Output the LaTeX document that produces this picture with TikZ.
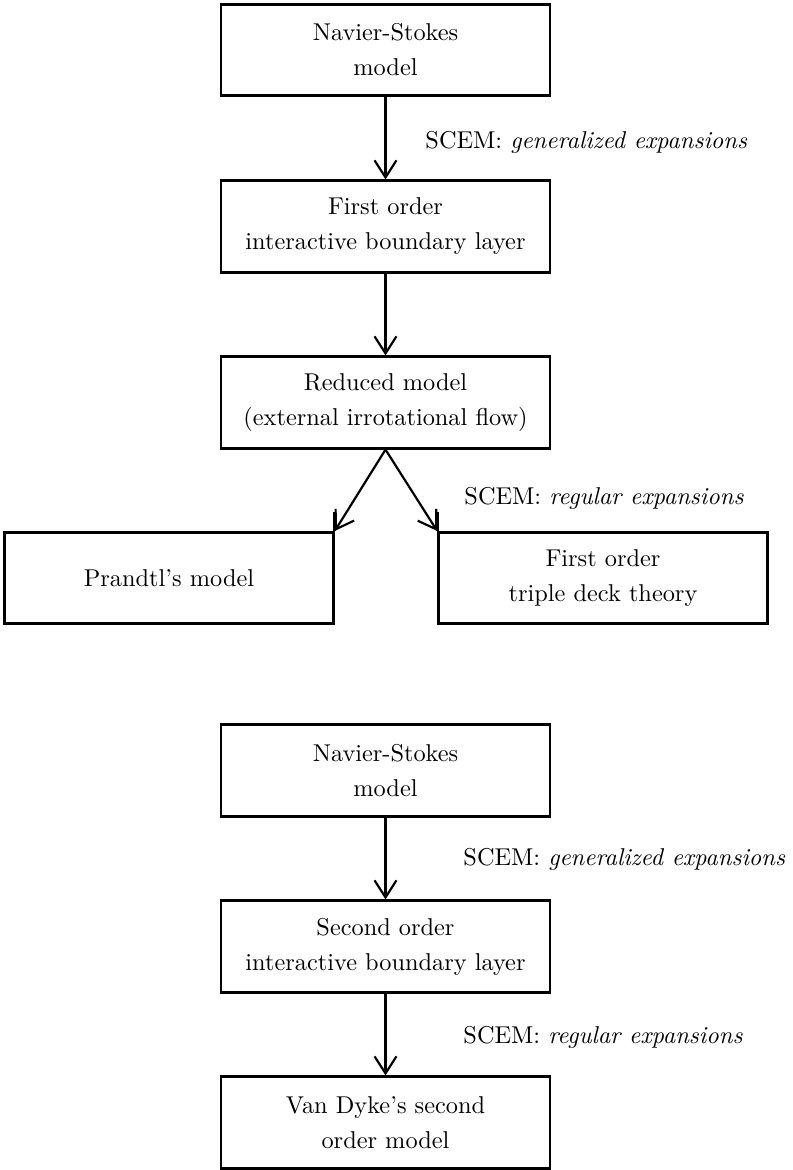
\documentclass[tikz,border=0pt]{standalone}
\usetikzlibrary{arrows.meta}
\begin{document}
\begin{tikzpicture}[x=0.411pt,y=-0.411pt,
  modelbox/.style={draw,line width=1.1pt,minimum width=135.2pt,minimum height=37.6pt,
    inner sep=0pt,align=center,font={\linespread{1.2}\selectfont}},
  flow/.style={line width=0.9pt,-{Straight Barb[length=7pt,width=9pt,line width=0.9pt]}},
  note/.style={anchor=base west,inner sep=0pt}]
\useasboundingbox (0,0) rectangle (793,1170);

% first chain: Navier-Stokes down to the first order models
\node[modelbox] (ns1) at (385.5,50) {Navier-Stokes\\model};
\node[modelbox] (ibl1) at (385.5,226.5) {First order\\interactive boundary layer};
\node[modelbox] (red) at (385.5,402.5) {Reduced model\\(external irrotational flow)};
\node[modelbox] (pr) at (169,578) {Prandtl's model};
\node[modelbox] (td) at (603,578) {First order\\triple deck theory};

\draw[flow] (ns1.south) -- (ibl1.north);
\draw[flow] (ibl1.south) -- (red.north);
\draw[flow] (red.south) -- (pr.north east);
\draw[flow] (red.south) -- (td.north west);
\draw[line width=1.1pt] (pr.north east) -- ++(0,-19);
\draw[line width=1.1pt] (td.north west) -- ++(0,-19);

\node[note] (l1) at (425,148) {SCEM: \textit{generalized expansions}};
\node[note] (l2) at (464,504) {SCEM: \textit{regular expansions}};

% second chain: Navier-Stokes down to Van Dyke's model
\node[modelbox] (ns2) at (385.5,770.5) {Navier-Stokes\\model};
\node[modelbox] (ibl2) at (385.5,946.5) {Second order\\interactive boundary layer};
\node[modelbox] (vd) at (385.5,1122.5) {Van Dyke's second\\order model};

\draw[flow] (ns2.south) -- (ibl2.north);
\draw[flow] (ibl2.south) -- (vd.north);

\node[note] (l3) at (463,865) {SCEM: \textit{generalized expansions}};
\node[note] (l4) at (463,1043) {SCEM: \textit{regular expansions}};
\end{tikzpicture}
\end{document}
